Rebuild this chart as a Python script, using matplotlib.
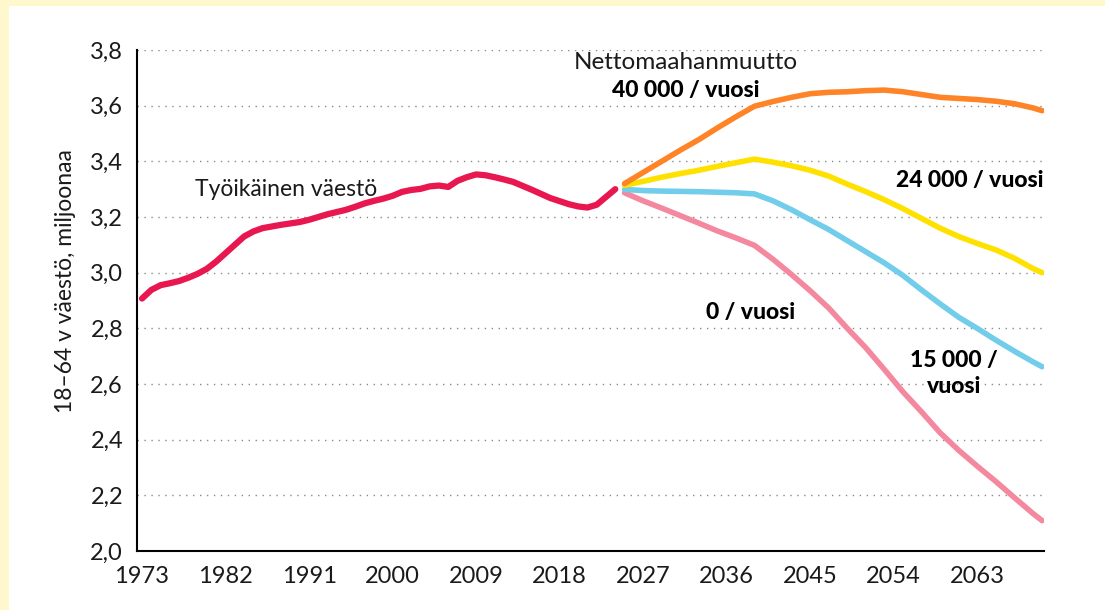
import matplotlib.pyplot as plt
from matplotlib.patches import Rectangle

plt.rcParams['font.family'] = ['Lato', 'DejaVu Sans']

# toteutunut 18-64 v väestö
hist_years = list(range(1973, 2025))
hist_vals = [2.907, 2.938, 2.955, 2.962, 2.970, 2.982, 2.996, 3.014, 3.040, 3.070,
             3.100, 3.130, 3.148, 3.160, 3.166, 3.172, 3.177, 3.182, 3.190, 3.200,
             3.210, 3.218, 3.226, 3.237, 3.249, 3.258, 3.266, 3.276, 3.290, 3.297,
             3.301, 3.310, 3.313, 3.308, 3.330, 3.343, 3.353, 3.350, 3.343, 3.335,
             3.326, 3.312, 3.298, 3.283, 3.268, 3.257, 3.246, 3.238, 3.234, 3.244,
             3.272, 3.300]

# ennusteet nettomaahanmuuton mukaan
proj_years = [2025, 2027, 2029, 2031, 2033, 2035, 2037, 2039, 2041, 2043, 2045, 2047,
              2049, 2051, 2053, 2055, 2057, 2059, 2061, 2063, 2065, 2067, 2069, 2070]
proj_40000 = [3.320, 3.360, 3.400, 3.440, 3.478, 3.520, 3.560, 3.598, 3.615, 3.630,
              3.643, 3.648, 3.650, 3.654, 3.656, 3.650, 3.640, 3.630, 3.626, 3.622,
              3.616, 3.607, 3.592, 3.582]
proj_24000 = [3.314, 3.328, 3.343, 3.356, 3.368, 3.382, 3.395, 3.408, 3.397, 3.384,
              3.368, 3.347, 3.318, 3.291, 3.262, 3.230, 3.195, 3.160, 3.130, 3.105,
              3.082, 3.052, 3.015, 3.000]
proj_15000 = [3.299, 3.295, 3.293, 3.292, 3.291, 3.289, 3.287, 3.283, 3.258, 3.226,
              3.190, 3.155, 3.115, 3.075, 3.035, 2.990, 2.938, 2.888, 2.840, 2.800,
              2.758, 2.718, 2.680, 2.662]
proj_0 = [3.287, 3.258, 3.232, 3.205, 3.178, 3.150, 3.125, 3.098, 3.048, 2.993,
          2.935, 2.873, 2.800, 2.730, 2.652, 2.572, 2.500, 2.425, 2.362, 2.305,
          2.250, 2.192, 2.135, 2.109]

xticks = [1973, 1982, 1991, 2000, 2009, 2018, 2027, 2036, 2045, 2054, 2063]
yticks = [2.0, 2.2, 2.4, 2.6, 2.8, 3.0, 3.2, 3.4, 3.6, 3.8]

fig = plt.figure(figsize=(11.05, 6.1), dpi=100, facecolor='#FFF8CC')
fig.patches.append(Rectangle((9 / 1105, 0), 1, 1 - 6 / 610, transform=fig.transFigure,
                             facecolor='white', edgecolor='none', zorder=-10))
ax = fig.add_axes([137 / 1105, 1 - 551 / 610, (1044 - 137) / 1105, (551 - 50) / 610])
ax.set_facecolor('white')

ax.plot(proj_years, proj_0, color='#F4889F', lw=4, solid_capstyle='round', zorder=3)
ax.plot(proj_years, proj_15000, color='#72CDEA', lw=4, solid_capstyle='round', zorder=4)
ax.plot(proj_years, proj_24000, color='#FFE100', lw=4, solid_capstyle='round', zorder=5)
ax.plot(proj_years, proj_40000, color='#FF8427', lw=4, solid_capstyle='round', zorder=6)
ax.plot(hist_years, hist_vals, color='#E8174F', lw=4.5, solid_capstyle='round', zorder=7)

ax.set_xlim(1972.46, 2070.2)
ax.set_ylim(2.0, 3.8)
ax.set_xticks(xticks)
ax.set_xticklabels([str(x) for x in xticks])
ax.set_yticks(yticks)
ax.set_yticklabels([('%.1f' % y).replace('.', ',') for y in yticks])
ax.tick_params(length=0, labelsize=17, colors='#1a1a1a')
ax.tick_params(axis='y', pad=10)
ax.tick_params(axis='x', pad=11)

ax.grid(axis='y', color='#8a8a8a', linestyle=(0, (1, 4)), linewidth=1)
ax.set_axisbelow(True)
for s in ['top', 'right']:
    ax.spines[s].set_visible(False)
for s in ['left', 'bottom']:
    ax.spines[s].set_color('black')
    ax.spines[s].set_linewidth(1.5)

fig.text(66 / 1105, 1 - 281 / 610, '18–64 v väestö, miljoonaa', rotation=90,
         ha='center', va='center', fontsize=16.5, color='#1a1a1a')

ax.text(1978.7, 3.274, 'Työikäinen väestö', fontsize=16.5, color='#1a1a1a',
        ha='left', va='baseline')
ax.text(2031.6, 3.732, 'Nettomaahanmuutto', fontsize=17.5, color='#1a1a1a',
        ha='center', va='baseline')
ax.text(2031.6, 3.631, '40 000 / vuosi', fontsize=16.5, fontweight='black',
        ha='center', va='baseline')
ax.text(2070.1, 3.308, '24 000 / vuosi', fontsize=16.5, fontweight='black',
        ha='right', va='baseline')
ax.text(2038.6, 2.833, '0 / vuosi', fontsize=16.5, fontweight='black',
        ha='center', va='baseline')
ax.text(2060.5, 2.661, '15 000 /', fontsize=16.5, fontweight='black',
        ha='center', va='baseline')
ax.text(2060.5, 2.568, 'vuosi', fontsize=16.5, fontweight='black',
        ha='center', va='baseline')

fig.savefig('out.png', dpi=100, facecolor=fig.get_facecolor())
